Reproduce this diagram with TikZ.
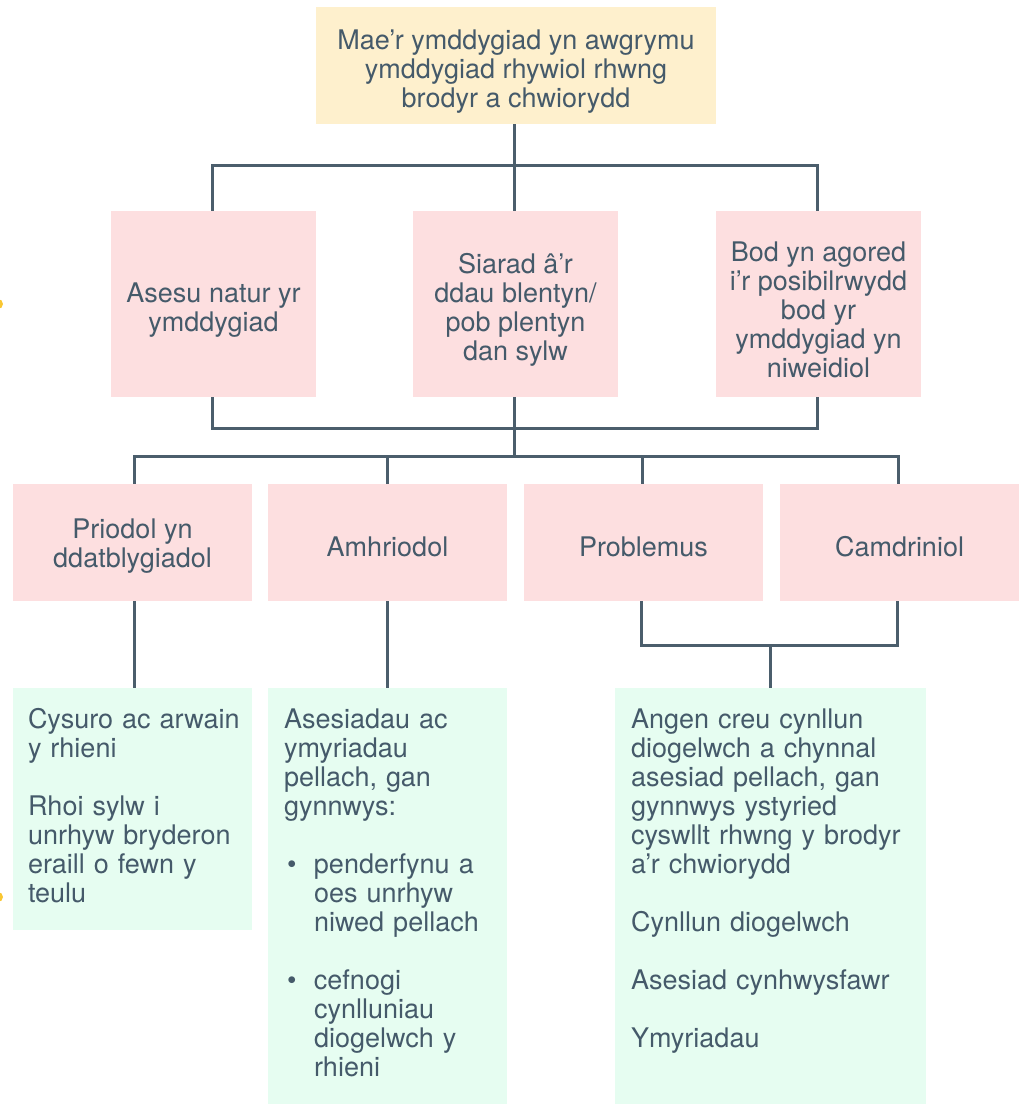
\documentclass[tikz,border=0pt]{standalone}
\usepackage{fontspec}
\setmainfont{TeX Gyre Heros}
\definecolor{ink}{HTML}{455A6A}
\definecolor{wire}{HTML}{4B5E6C}
\definecolor{yel}{HTML}{FEF0CD}
\definecolor{pnk}{HTML}{FDDFE0}
\definecolor{grn}{HTML}{E6FDF1}
\definecolor{dotc}{HTML}{F9C733}
\begin{document}
\begin{tikzpicture}[x=1pt,y=-1pt,
  box/.style={rectangle,inner sep=0pt,draw=none},
  txt/.style={inner sep=0pt,text=ink,font=\fontsize{27}{29}\selectfont,align=center},
  ltxt/.style={inner sep=0pt,text=ink,font=\fontsize{27}{29}\selectfont,align=left,text width=300pt,anchor=base west},
  wire/.style={draw=wire,line width=3pt,line join=miter}]
\useasboundingbox (0,0) rectangle (1026,1106);
% side marks
\fill[dotc] (-2,304) circle (5);
\fill[dotc] (-2,897) circle (5);
% top
\node[box,fill=yel,minimum width=400pt,minimum height=117pt] (top) at (516,65.5) {};
\node[txt] at ([yshift=-6pt]top.center) {Mae’r ymddygiad yn awgrymu\\ymddygiad rhywiol rhwng\\brodyr a chwiorydd};
% row 2
\node[box,fill=pnk,minimum width=205pt,minimum height=186pt] (b1) at (213.5,304) {};
\node[box,fill=pnk,minimum width=205pt,minimum height=186pt] (b2) at (515.5,304) {};
\node[box,fill=pnk,minimum width=205pt,minimum height=186pt] (b3) at (818.5,304) {};
\node[txt] at ([yshift=-6pt]b1.center) {Asesu natur yr\\ymddygiad};
\node[txt] at ([yshift=-6pt]b2.center) {Siarad â’r\\ddau blentyn/\\pob plentyn\\dan sylw};
\node[txt] at ([yshift=-6pt]b3.center) {Bod yn agored\\i’r posibilrwydd\\bod yr\\ymddygiad yn\\niweidiol};
% row 3
\node[box,fill=pnk,minimum width=239pt,minimum height=117pt] (c1) at (132.5,542.5) {};
\node[box,fill=pnk,minimum width=239pt,minimum height=117pt] (c2) at (387.5,542.5) {};
\node[box,fill=pnk,minimum width=239pt,minimum height=117pt] (c3) at (643.5,542.5) {};
\node[box,fill=pnk,minimum width=239pt,minimum height=117pt] (c4) at (899.5,542.5) {};
\node[txt] at ([yshift=-4pt]c1.center) {Priodol yn\\ddatblygiadol};
\node[txt] at ([yshift=-4pt]c2.center) {Amhriodol};
\node[txt] at ([yshift=-4pt]c3.center) {Problemus};
\node[txt] at ([yshift=-4pt]c4.center) {Camdriniol};
% row 4
\node[box,fill=grn,minimum width=239pt,minimum height=242pt] (g1) at (132.5,809) {};
\node[box,fill=grn,minimum width=239pt,minimum height=416pt] (g2) at (387.5,896) {};
\node[box,fill=grn,minimum width=311pt,minimum height=416pt] (g3) at (770.5,896) {};
\node[ltxt] at ([xshift=15pt,yshift=-41pt]g1.north west) {Cysuro ac arwain\\y rhieni\\[29pt]Rhoi sylw i\\unrhyw bryderon\\eraill o fewn y\\teulu};
\node[ltxt] at ([xshift=16pt,yshift=-41pt]g2.north west) {Asesiadau ac\\ymyriadau\\pellach, gan\\gynnwys:\\[29pt]%
\hspace*{3pt}\makebox[27pt][l]{•}penderfynu a\\\hspace*{30pt}oes unrhyw\\\hspace*{30pt}niwed pellach\\[29pt]%
\hspace*{3pt}\makebox[27pt][l]{•}cefnogi\\\hspace*{30pt}cynlluniau\\\hspace*{30pt}diogelwch y\\\hspace*{30pt}rhieni};
\node[ltxt] at ([xshift=16pt,yshift=-41pt]g3.north west) {Angen creu cynllun\\diogelwch a chynnal\\asesiad pellach, gan\\gynnwys ystyried\\cyswllt rhwng y brodyr\\a’r chwiorydd\\[29pt]Cynllun diogelwch\\[29pt]Asesiad cynhwysfawr\\[29pt]Ymyriadau};
% connectors
\coordinate (j1) at (514,165);
\coordinate (j2) at (514,428);
\coordinate (j3) at (514,456);
\coordinate (j4) at (770,645);
\draw[wire] (top.south -| j1) -- (j1);
\draw[wire] (b1.north -| 212,0) |- (j1) -| (b3.north -| 817,0);
\draw[wire] (j1) -- (b2.north -| j1);
\draw[wire] (b1.south -| 212,0) |- (j2) -| (b3.south -| 817,0);
\draw[wire] (b2.south -| j2) -- (j3);
\draw[wire] (c1.north -| 134,0) |- (j3) -| (c4.north -| 898,0);
\draw[wire] (c2.north -| 387,0) -- (387,456);
\draw[wire] (c3.north -| 642,0) -- (642,456);
\draw[wire] (c1.south -| 134,0) -- (g1.north -| 134,0);
\draw[wire] (c2.south -| 387,0) -- (g2.north -| 387,0);
\draw[wire] (c3.south -| 641,0) |- (j4) -| (c4.south -| 897,0);
\draw[wire] (j4) -- (g3.north -| j4);
\end{tikzpicture}
\end{document}
